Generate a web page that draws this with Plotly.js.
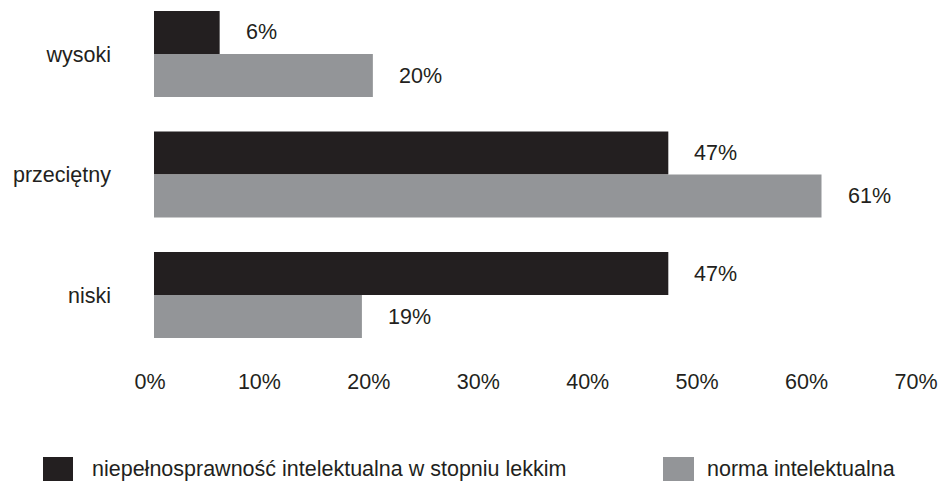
<!DOCTYPE html>
<html>
<head>
<meta charset="utf-8">
<script src="https://cdn.plot.ly/plotly-3.0.1.min.js"></script>
<style>html,body{margin:0;padding:0;background:#fff;}#chart{width:940px;height:481px;}</style>
</head>
<body>
<div id="chart"></div>
<script>
const categories = ['wysoki', 'przeciętny', 'niski'];
const seriesNames = ['niepełnosprawność intelektualna w stopniu lekkim', 'norma intelektualna'];
const lekkaValues = [6, 47, 47];
const normaValues = [20, 61, 19];
const xTickValues = [0, 10, 20, 30, 40, 50, 60, 70];
const xTickLabels = ['0%', '10%', '20%', '30%', '40%', '50%', '60%', '70%'];

const colors = ['#231f20', '#939598'];
const textColor = '#231f20';
const fontFamily = 'Liberation Sans, Arial, sans-serif';
const fontSize = 21.5;
const seriesValues = [lekkaValues, normaValues];

const traces = seriesValues.map((vals, i) => ({
  type: 'bar',
  orientation: 'h',
  name: seriesNames[i],
  y: categories,
  x: vals,
  marker: {color: colors[i], line: {width: 0}},
  showlegend: false,
  hoverinfo: 'none'
}));

const bargap = 0.286;
const barW = (1 - bargap) / 2;
const annotations = [];
seriesValues.forEach((vals, i) => {
  vals.forEach((v, j) => {
    annotations.push({
      x: v, y: j + (i === 0 ? -barW / 2 : barW / 2),
      xref: 'x', yref: 'y',
      text: v + '%', showarrow: false,
      xanchor: 'left', yanchor: 'middle', xshift: 24,
      font: {family: fontFamily, size: fontSize, color: textColor}
    });
  });
});

// legend (custom, large swatches)
const plotL = 154, plotW = 766, plotH = 360;
const px2x = p => (p - plotL) / plotW;
const py2y = p => (plotH - p) / plotH;
const legendItems = [
  {sx0: 43, sx1: 73, tx: 90},
  {sx0: 663, sx1: 694, tx: 705}
];
const shapes = [];
legendItems.forEach((it, i) => {
  shapes.push({
    type: 'rect', xref: 'paper', yref: 'paper',
    x0: px2x(it.sx0), x1: px2x(it.sx1), y0: py2y(481), y1: py2y(457),
    fillcolor: colors[i], line: {width: 0}
  });
  annotations.push({
    xref: 'paper', yref: 'paper', x: px2x(it.tx), y: py2y(469),
    xanchor: 'left', yanchor: 'middle', showarrow: false,
    text: seriesNames[i],
    font: {family: fontFamily, size: fontSize, color: textColor}
  });
});

const layout = {
  width: 940, height: 481,
  margin: {l: plotL, r: 940 - plotL - plotW, t: 0, b: 481 - plotH, pad: 0},
  paper_bgcolor: '#ffffff', plot_bgcolor: '#ffffff',
  barmode: 'group', bargap: bargap, bargroupgap: 0,
  font: {family: fontFamily, size: fontSize, color: textColor},
  showlegend: false,
  xaxis: {
    range: [0, 70], tickvals: xTickValues, ticktext: xTickLabels,
    showgrid: false, zeroline: false, showline: false, ticks: '',
    ticklabelstandoff: 6, ticklabelshift: -4, ticklabeloverflow: 'allow',
    tickfont: {family: fontFamily, size: fontSize, color: textColor}
  },
  yaxis: {
    type: 'category', range: [2.539, -0.448],
    showgrid: false, zeroline: false, showline: false, ticks: '',
    ticklabelstandoff: 42,
    tickfont: {family: fontFamily, size: fontSize, color: textColor}
  },
  annotations: annotations,
  shapes: shapes
};

Plotly.newPlot('chart', traces, layout, {staticPlot: true, displayModeBar: false});
</script>
</body>
</html>
